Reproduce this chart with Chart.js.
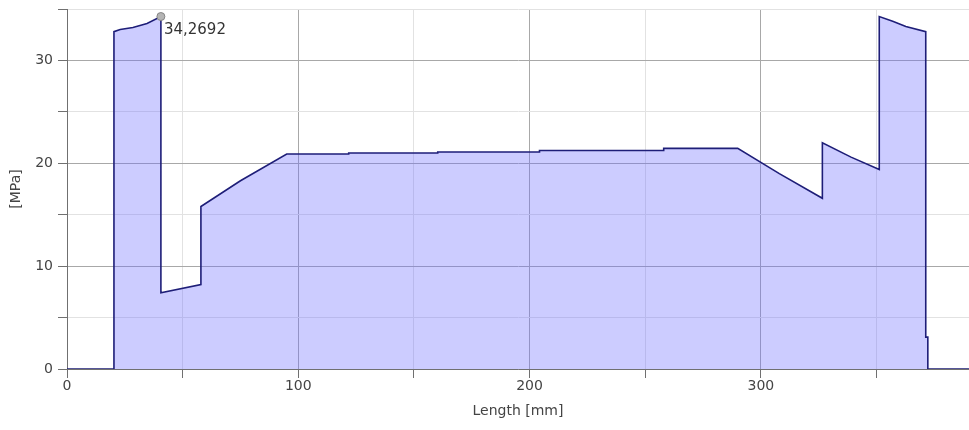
<!DOCTYPE html>
<html>
<head>
<meta charset="utf-8">
<script src="https://cdn.jsdelivr.net/npm/chart.js@4/dist/chart.umd.min.js"></script>
<style>
    body { margin: 0; background: #fff; }
    #wrap { width: 969px; height: 430px; }
</style>
</head>
<body>
<div id="wrap"><canvas id="stressChart" width="969" height="430"></canvas></div>
<script>
// stress along the length
var lengthMm = [0, 20.3, 20.3, 23, 28.5, 34.6, 40.6, 40.6, 57.9, 57.9, 75, 95, 121.8, 121.8, 160.3, 160.3,
    204.3, 204.3, 258, 258, 290, 308, 326.6, 326.6, 339, 351.2, 351.2, 357, 362.7, 371.3, 371.3, 372.2, 372.2, 390];
var stressMPa = [0, 0, 32.8, 33.0, 33.2, 33.6, 34.2692, 7.4, 8.2, 15.8, 18.3, 20.9, 20.9, 21.0, 21.0, 21.1,
    21.1, 21.25, 21.25, 21.45, 21.45, 19.0, 16.6, 22.0, 20.6, 19.4, 34.2692, 33.8, 33.3, 32.8, 3.1, 3.1, 0, 0];
var xTicks = [0, 50, 100, 150, 200, 250, 300, 350];
var yTicks = [0, 5, 10, 15, 20, 25, 30, 35];

var peakIndex = stressMPa.indexOf(Math.max(...stressMPa));
var peakLabel = stressMPa[peakIndex].toFixed(4).replace('.', ',');

var txtColor = '#444';
var font = { family: 'DejaVu Sans', size: 14 };

var peakText = {
    id: 'peakText',
    afterDatasetsDraw: function (chart) {
        var p = chart.getDatasetMeta(0).data[peakIndex];
        var ctx = chart.ctx;
        ctx.save();
        ctx.font = '15px "DejaVu Sans"';
        ctx.fillStyle = '#333';
        ctx.textAlign = 'left';
        ctx.textBaseline = 'alphabetic';
        ctx.fillText(peakLabel, p.x + 3, p.y + 17);
        ctx.restore();
    }
};

var ctx = document.getElementById('stressChart').getContext('2d');

new Chart(ctx, {
    type: 'line',
    data: {
        datasets: [{
            data: lengthMm.map((x, i) => ({ x: x, y: stressMPa[i] })),
            borderColor: '#1e1e78',
            borderWidth: 1.6,
            backgroundColor: 'rgba(110,110,255,0.35)',
            fill: 'origin',
            tension: 0,
            pointRadius: c => c.dataIndex === peakIndex ? 4 : 0,
            pointBackgroundColor: '#b4b4b4',
            pointBorderColor: '#858585',
            pointBorderWidth: 1
        }]
    },
    options: {
        responsive: false,
        animation: false,
        layout: {
            padding: { top: 9, right: 0, left: 0, bottom: 0 }
        },
        plugins: {
            legend: { display: false },
            tooltip: { enabled: false }
        },
        scales: {
            x: {
                type: 'linear',
                min: 0,
                max: 390,
                afterBuildTicks: s => { s.ticks = xTicks.map(v => ({ value: v })); },
                afterFit: s => { s.height = 61; s.paddingLeft = 0; s.paddingRight = 0; },
                ticks: {
                    autoSkip: false,
                    maxRotation: 0,
                    color: txtColor,
                    font: font,
                    padding: 0,
                    callback: v => v % 100 === 0 ? v : ''
                },
                grid: {
                    color: c => c.tick && c.tick.value % 100 === 0 ? '#a8a8a8' : '#e2e2e2',
                    tickColor: '#707070',
                    tickLength: 9
                },
                border: { color: '#707070' },
                title: {
                    display: true,
                    text: 'Length [mm]',
                    color: txtColor,
                    font: font,
                    padding: { top: 0, bottom: 10 }
                }
            },
            y: {
                min: 0,
                max: 35,
                afterBuildTicks: s => { s.ticks = yTicks.map(v => ({ value: v })); },
                afterFit: s => { s.width = 67; s.paddingTop = 0; s.paddingBottom = 0; },
                ticks: {
                    color: txtColor,
                    font: font,
                    padding: 5,
                    callback: v => v % 10 === 0 && v < 35 ? v : ''
                },
                grid: {
                    color: c => c.tick && c.tick.value % 10 === 0 && c.tick.value < 35 ? '#a8a8a8' : '#e2e2e2',
                    tickColor: '#707070',
                    tickLength: 9
                },
                border: { color: '#707070' },
                title: {
                    display: true,
                    text: '[MPa]',
                    color: txtColor,
                    font: font,
                    padding: { top: 8, bottom: 0 }
                }
            }
        }
    },
    plugins: [peakText]
});
</script>
</body>
</html>
